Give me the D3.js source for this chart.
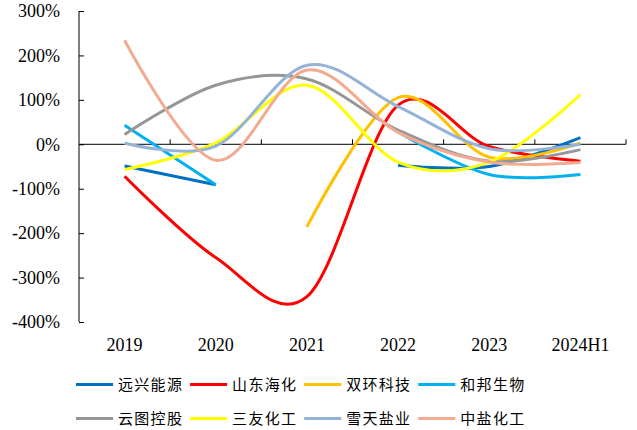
<!DOCTYPE html>
<html><head><meta charset="utf-8">
<script src="https://cdn.jsdelivr.net/npm/d3@7"></script>
<style>
body{margin:0;background:#fff;}
svg{display:block;}
</style></head>
<body>
<svg id="c" width="637" height="430"></svg>
<script>
const categories = ["2019","2020","2021","2022","2023","2024H1"];
const seriesNames = ["远兴能源","山东海化","双环科技","和邦生物","云图控股","三友化工","雪天盐业","中盐化工"];
const yuanxing  = [-49, -91, null, -47, -50, 15];
const shandong  = [-72, -255, -343, 88, -5, -38];
const shuanghuan= [null, null, -186, 105, -29, 3];
const hebang    = [43, -91, null, 28, -68, -68];
const yuntu     = [22, 133, 147, 32, -38, -12];
const sanyou    = [-57, 3, 133, -40, -40, 112];
const xuetian   = [3, -4, 178, 85, -10, 0];
const zhongyan  = [234, -36, 167, 27, -40, -41];
const yTicks = [300, 200, 100, 0, -100, -200, -300, -400];
const colors = ["#0070C0","#FF0000","#FFC000","#00B0F0","#969696","#FFFF00","#95B3D7","#F2AB90"];
const allValues = [yuanxing, shandong, shuanghuan, hebang, yuntu, sanyou, xuetian, zhongyan];

const svg = d3.select("#c");
const serif = "'Liberation Serif','Times New Roman',serif";
const x = d3.scaleBand().domain(categories).range([79, 626]).padding(0);
const y = d3.scaleLinear().domain([-400, 300]).range([322, 11]);

const line = d3.line()
  .defined(d => d.v !== null)
  .x(d => x(d.c) + x.bandwidth()/2)
  .y(d => y(d.v))
  .curve(d3.curveCardinal.tension(0));

const yAxis = d3.axisLeft(y).tickValues(yTicks).tickSize(-5).tickPadding(19)
  .tickFormat(d => d + "%");
const gy = svg.append("g").attr("transform","translate(79,0)").call(yAxis);
gy.selectAll("text").attr("font-family", serif).attr("font-size", 18).attr("fill","#000");
gy.selectAll("line,path").attr("stroke","#000");
gy.select(".domain").attr("d", `M0,${y(300)}V${y(-400)}`);

const gx = svg.append("g").attr("transform",`translate(0,${y(0)})`);
gx.append("line").attr("x1",79).attr("x2",626).attr("stroke","#000");
gx.selectAll("line.tk").data(categories).enter().append("line").attr("class","tk")
  .attr("x1", d => x(d) + x.bandwidth()).attr("x2", d => x(d) + x.bandwidth())
  .attr("y1",0).attr("y2",-5).attr("stroke","#000");

const xAxis = d3.axisBottom(x).tickSize(0).tickPadding(16);
const gxl = svg.append("g").attr("transform",`translate(0,${y(-400)})`).call(xAxis);
gxl.select(".domain").remove();
gxl.selectAll("text").attr("font-family", serif).attr("font-size", 18).attr("fill","#000");

allValues.forEach((vals, i) => {
  const data = categories.map((c, j) => ({c, v: vals[j]}));
  svg.append("path").datum(data).attr("d", line)
    .attr("fill","none").attr("stroke", colors[i]).attr("stroke-width",3)
    .attr("stroke-linejoin","round");
});

const lg = svg.append("g");
seriesNames.forEach((n, i) => {
  const col = i % 4, row = Math.floor(i / 4);
  const lx = 76 + col * 114.1, ly = 384.5 + row * 34;
  lg.append("line").attr("x1", lx).attr("x2", lx + 37).attr("y1", ly).attr("y2", ly)
    .attr("stroke", colors[i]).attr("stroke-width", 3);
  lg.append("text").attr("x", lx + 42).attr("y", ly).attr("dy","0.35em")
    .attr("font-family","'Noto Sans CJK SC',sans-serif").attr("font-size",15)
    .attr("letter-spacing","1.3px").attr("fill","#000").text(n);
});
</script>
</body></html>
